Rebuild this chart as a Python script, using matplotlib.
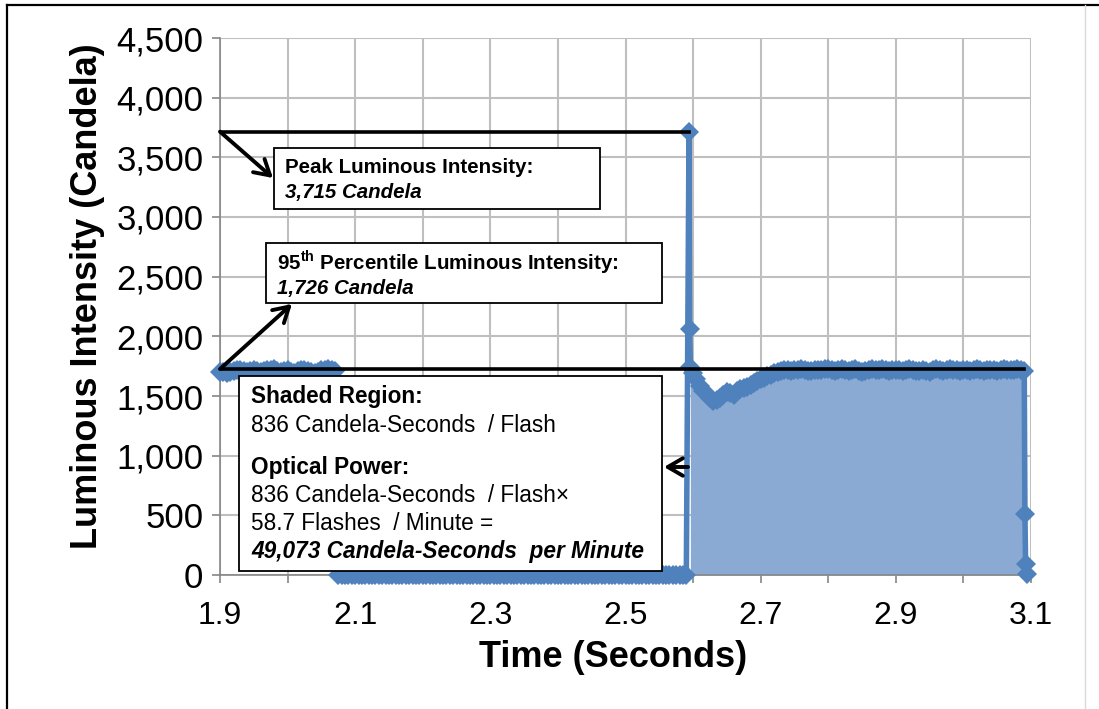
import matplotlib.pyplot as plt
from matplotlib.patches import Rectangle
from matplotlib.lines import Line2D

plt.rcParams['font.family'] = ['Liberation Sans', 'DejaVu Sans']
plt.rcParams['mathtext.fontset'] = 'custom'
plt.rcParams['mathtext.bf'] = 'Liberation Sans:bold'
plt.rcParams['mathtext.rm'] = 'Liberation Sans'

# --- data ---
# steady burn before the lamp switches off
t_hold = [1.900, 1.905, 1.910, 1.915, 1.920, 1.925, 1.930, 1.935, 1.940, 1.945,
          1.950, 1.955, 1.960, 1.965, 1.970, 1.975, 1.980, 1.985, 1.990, 1.995,
          2.000, 2.005, 2.010, 2.015, 2.020, 2.025, 2.030, 2.035, 2.040, 2.045,
          2.050, 2.055, 2.060, 2.065, 2.070]
cd_hold = [1705, 1698, 1690, 1704, 1712, 1720, 1722, 1710, 1698, 1708,
           1716, 1706, 1700, 1712, 1718, 1722, 1726, 1712, 1702, 1708,
           1714, 1704, 1696, 1710, 1720, 1714, 1708, 1698, 1692, 1704,
           1716, 1722, 1724, 1714, 1706]

# dark period
t_off = [2.075, 2.080, 2.085, 2.090, 2.095, 2.100, 2.105, 2.110, 2.115, 2.120,
         2.125, 2.130, 2.135, 2.140, 2.145, 2.150, 2.155, 2.160, 2.165, 2.170,
         2.175, 2.180, 2.185, 2.190, 2.195, 2.200, 2.205, 2.210, 2.215, 2.220,
         2.225, 2.230, 2.235, 2.240, 2.245, 2.250, 2.255, 2.260, 2.265, 2.270,
         2.275, 2.280, 2.285, 2.290, 2.295, 2.300, 2.305, 2.310, 2.315, 2.320,
         2.325, 2.330, 2.335, 2.340, 2.345, 2.350, 2.355, 2.360, 2.365, 2.370,
         2.375, 2.380, 2.385, 2.390, 2.395, 2.400, 2.405, 2.410, 2.415, 2.420,
         2.425, 2.430, 2.435, 2.440, 2.445, 2.450, 2.455, 2.460, 2.465, 2.470,
         2.475, 2.480, 2.485, 2.490, 2.495, 2.500, 2.505, 2.510, 2.515, 2.520,
         2.525, 2.530, 2.535, 2.540, 2.545, 2.550, 2.555, 2.560, 2.565, 2.570,
         2.575, 2.580, 2.585, 2.590]
cd_off = [0, 0, 0, 0, 0, 0, 0, 0, 0, 0,
          0, 0, 0, 0, 0, 0, 0, 0, 0, 0,
          0, 0, 0, 0, 0, 0, 0, 0, 0, 0,
          0, 0, 0, 0, 0, 0, 0, 0, 0, 0,
          0, 0, 0, 0, 0, 0, 0, 0, 0, 0,
          0, 0, 0, 0, 0, 0, 0, 0, 0, 0,
          0, 0, 0, 0, 0, 0, 0, 0, 0, 0,
          0, 0, 0, 0, 0, 0, 0, 0, 0, 0,
          0, 0, 0, 0, 0, 0, 0, 0, 0, 0,
          0, 0, 0, 0, 0, 0, 0, 0, 0, 0,
          0, 0, 0, 0]

# ignition spike
t_spike = [2.594, 2.595]
cd_spike = [3715, 2060]

# flash (shaded region)
t_flash = [2.596, 2.60, 2.605, 2.61, 2.615, 2.62, 2.625, 2.63, 2.635, 2.64,
           2.645, 2.65, 2.655, 2.66, 2.665, 2.67, 2.675, 2.68, 2.685, 2.69,
           2.695, 2.70, 2.705, 2.71, 2.715, 2.72, 2.725, 2.73, 2.735, 2.74,
           2.745, 2.75, 2.755, 2.76, 2.765, 2.77, 2.775, 2.78, 2.785, 2.79,
           2.795, 2.80, 2.805, 2.81, 2.815, 2.82, 2.825, 2.83, 2.835, 2.84,
           2.845, 2.85, 2.855, 2.86, 2.865, 2.87, 2.875, 2.88, 2.885, 2.89,
           2.895, 2.90, 2.905, 2.91, 2.915, 2.92, 2.925, 2.93, 2.935, 2.94,
           2.945, 2.95, 2.955, 2.96, 2.965, 2.97, 2.975, 2.98, 2.985, 2.99,
           2.995, 3.00, 3.005, 3.01, 3.015, 3.02, 3.025, 3.03, 3.035, 3.04,
           3.045, 3.05, 3.055, 3.06, 3.065, 3.07, 3.075, 3.08, 3.085, 3.09,
           3.091, 3.092, 3.094]
cd_flash = [1745, 1690, 1640, 1585, 1545, 1515, 1485, 1462, 1470, 1482,
            1510, 1535, 1522, 1512, 1540, 1562, 1570, 1578, 1596, 1612,
            1628, 1640, 1655, 1666, 1680, 1690, 1698, 1706, 1714, 1720,
            1708, 1714, 1722, 1728, 1716, 1706, 1712, 1722, 1718, 1714,
            1724, 1730, 1716, 1708, 1718, 1724, 1714, 1712, 1722, 1728,
            1712, 1704, 1712, 1720, 1724, 1714, 1720, 1726, 1716, 1706,
            1714, 1722, 1718, 1710, 1720, 1728, 1720, 1712, 1710, 1718,
            1712, 1704, 1716, 1724, 1716, 1708, 1718, 1726, 1720, 1714,
            1712, 1720, 1714, 1706, 1718, 1728, 1720, 1712, 1716, 1722,
            1714, 1708, 1716, 1726, 1722, 1714, 1718, 1724, 1716, 1710,
            515, 95, 5]

peak_cd = 3715
p95_cd = 1726

x_ticks = [1.9, 2.0, 2.1, 2.2, 2.3, 2.4, 2.5, 2.6, 2.7, 2.8, 2.9, 3.0, 3.1]
x_labels = ['1.9', '', '2.1', '', '2.3', '', '2.5', '', '2.7', '', '2.9', '', '3.1']
y_ticks = [0, 500, 1000, 1500, 2000, 2500, 3000, 3500, 4000, 4500]

blue = '#4F81BD'
fill_blue = '#8AAAD4'
grid_c = '#BFBFBF'
W, H = 1099, 709


def fx(x):
    return x / W


def fy(y):
    return 1 - y / H


fig = plt.figure(figsize=(W / 100, H / 100), dpi=100)
ax = fig.add_axes([fx(220), fy(575), fx(1031) - fx(220), fy(38) - fy(575)])

t_all = t_hold + t_off + t_spike + t_flash
cd_all = cd_hold + cd_off + cd_spike + cd_flash

ax.fill_between(t_flash, cd_flash, 0, color=fill_blue, lw=0, zorder=2)
ax.plot(t_all, cd_all, color=blue, lw=4, marker='D', ms=10, mew=0,
        zorder=3, clip_on=False)

# reference lines
ax.plot([t_hold[0], t_spike[0]], [peak_cd, peak_cd], color='black', lw=2.6, zorder=4)
ax.plot([t_hold[0], t_flash[-4]], [p95_cd, p95_cd], color='black', lw=2.6, zorder=4)

ax.set_xlim(1.9, 3.1)
ax.set_ylim(0, 4500)
ax.set_xticks(x_ticks)
ax.set_xticklabels(x_labels)
ax.set_yticks(y_ticks)
ax.set_yticklabels([f'{v:,}' for v in y_ticks])
ax.grid(True, color=grid_c, lw=1.5, zorder=0)
ax.set_axisbelow(True)
for s in ['top', 'right']:
    ax.spines[s].set_visible(False)
for s in ['left', 'bottom']:
    ax.spines[s].set_color('#868686')
    ax.spines[s].set_linewidth(1.2)
ax.tick_params(axis='both', direction='out', length=6, width=1.2, color='#868686')
ax.tick_params(axis='y', labelsize=25, pad=6)
ax.tick_params(axis='x', labelsize=23, pad=13)
ax.set_xlabel('Time (Seconds)', fontsize=26, fontweight='bold', labelpad=6)
ax.set_ylabel('Luminous Intensity (Candela)', fontsize=26, fontweight='bold', labelpad=8)
ax.xaxis.label.set_x(0.485)
ax.yaxis.label.set_y(0.52)

# arrows
arrow_kw = dict(arrowstyle='->, head_length=0.6, head_width=0.35', color='black',
                lw=2.8, mutation_scale=18, shrinkA=0, shrinkB=0)
ax.annotate('', xy=(fx(273), fy(178)), xycoords='figure fraction',
            xytext=(t_hold[0], peak_cd), textcoords='data',
            arrowprops=arrow_kw, annotation_clip=False, zorder=6)
ax.annotate('', xy=(fx(292), fy(304)), xycoords='figure fraction',
            xytext=(t_hold[0], p95_cd), textcoords='data',
            arrowprops=arrow_kw, annotation_clip=False, zorder=6)
ax.annotate('', xy=(fx(664), fy(467)), xycoords='figure fraction',
            xytext=(fx(688), fy(467)), textcoords='figure fraction',
            arrowprops=arrow_kw, annotation_clip=False, zorder=6)


def box(x0, y0, x1, y1):
    fig.add_artist(Rectangle((fx(x0), fy(y1)), fx(x1) - fx(x0), fy(y0) - fy(y1),
                             transform=fig.transFigure, facecolor='white',
                             edgecolor='black', lw=1.3, zorder=10))


def txt(x, y, s, size, weight='normal', style='normal'):
    fig.text(fx(x), fy(y), s, fontsize=size, fontweight=weight, fontstyle=style,
             va='baseline', ha='left', zorder=11)


box(274, 148, 600, 209)
txt(285, 173, 'Peak Luminous Intensity:', 14.8, 'bold')
txt(285, 198, '3,715 Candela', 14.8, 'bold', 'italic')

box(266, 243, 662, 303)
txt(277, 269, r'95$^{\mathbf{th}}$ Percentile Luminous Intensity:', 14.8, 'bold')
txt(277, 294, '1,726 Candela', 14.8, 'bold', 'italic')

box(239, 376, 662, 571)
txt(251, 403, 'Shaded Region:', 16.3, 'bold')
txt(251, 432, '836 Candela-Seconds  / Flash', 16.3)
txt(251, 474, 'Optical Power:', 16.3, 'bold')
txt(251, 502, '836 Candela-Seconds  / Flash\u00d7', 16.3)
txt(251, 530, '58.7 Flashes  / Minute =', 16.3)
txt(251, 558, '49,073 Candela-Seconds  per Minute', 16.3, 'bold', 'italic')

# outer frame
fig.add_artist(Line2D([fx(7), fx(7)], [fy(5), 0], color='black', lw=1.6,
                      transform=fig.transFigure))
fig.add_artist(Line2D([fx(7), 1], [fy(5), fy(5)], color='black', lw=1.6,
                      transform=fig.transFigure))
fig.add_artist(Line2D([fx(1085), fx(1085)], [fy(5), 0], color='#D9D9D9', lw=1,
                      transform=fig.transFigure))

fig.savefig('out.png', dpi=100)
